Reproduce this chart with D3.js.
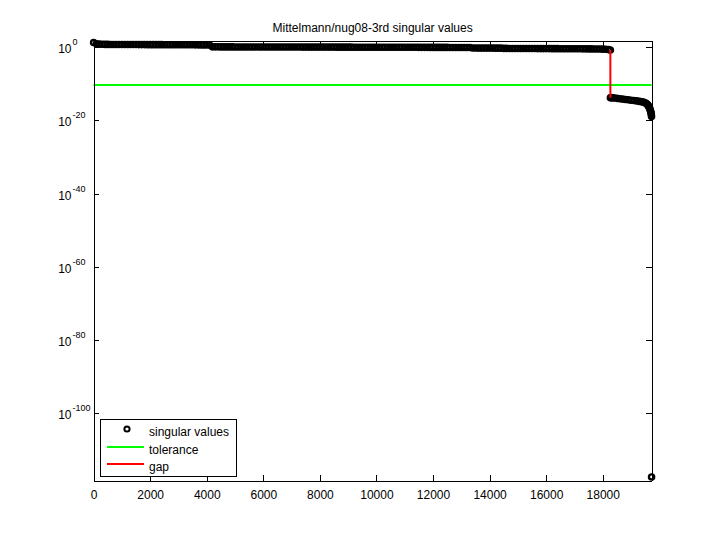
<!DOCTYPE html>
<html>
<head>
<meta charset="utf-8">
<script src="https://cdn.jsdelivr.net/npm/d3@7"></script>
<style>
  html, body { margin: 0; padding: 0; background: #fff; }
  svg { display: block; }
  text { font-family: "Liberation Sans", Arial, Helvetica, sans-serif; fill: #000; }
</style>
</head>
<body>
<svg id="chart" width="720" height="540"></svg>
<script>
// ---------------- data ----------------
const chartTitle = "Mittelmann/nug08-3rd singular values";
const nSingular = 19728;                 // number of singular values (x extent)
const yLimLog10 = [-118.4, 1.86];        // y axis limits, log10
// leading singular values, sampled every 100 indices (0, 100, 200, ...), log10
const headIndexStep = 100;
const headLog10 = [
  1.30, 0.95, 0.86, 0.82, 0.80, 0.79, 0.78, 0.78, 0.77, 0.77,
  0.76, 0.76, 0.76, 0.75, 0.75, 0.75, 0.74, 0.74, 0.74, 0.73,
  0.73, 0.73, 0.72, 0.72, 0.72, 0.71, 0.71, 0.71, 0.70, 0.70,
  0.70, 0.69, 0.69, 0.69, 0.68, 0.68, 0.67, 0.67, 0.66, 0.66,
  0.65, 0.64,
  0.12, 0.12, 0.12, 0.11, 0.11, 0.11, 0.11, 0.11, 0.10, 0.10,
  0.10, 0.10, 0.10, 0.10, 0.09, 0.09, 0.09, 0.09, 0.09, 0.09,
  0.08, 0.08, 0.08, 0.08, 0.08, 0.08, 0.07, 0.07, 0.07, 0.07,
  0.07, 0.07, 0.06, 0.06, 0.06, 0.06, 0.06, 0.06, 0.05, 0.05,
  0.05, 0.05, 0.05, 0.05, 0.04, 0.04, 0.04, 0.04, 0.04, 0.04,
  0.03, 0.03, 0.03, 0.03, 0.03, 0.03, 0.02, 0.02, 0.02, 0.02,
  0.02, 0.02, 0.01, 0.01, 0.01, 0.01, 0.01, 0.01, 0.00, 0.00,
  0.00, 0.00, 0.00, -0.01, -0.01, -0.01, -0.01, -0.02, -0.02, -0.02,
  -0.02, -0.03, -0.03, -0.03, -0.04, -0.04, -0.04, -0.05, -0.05, -0.05,
  -0.06, -0.06,
  -0.20, -0.20, -0.21, -0.21, -0.21, -0.22, -0.22, -0.22, -0.23, -0.23, -0.23,
  -0.30, -0.30, -0.31, -0.31, -0.32, -0.32, -0.32, -0.33, -0.33, -0.33,
  -0.34, -0.34, -0.35, -0.35, -0.35, -0.36, -0.36, -0.37, -0.37, -0.37,
  -0.38, -0.38, -0.39, -0.39, -0.40, -0.40, -0.41, -0.41, -0.42, -0.42,
  -0.43, -0.44, -0.45, -0.46, -0.48, -0.50, -0.55, -0.62
];
// remaining singular values, explicit indices and log10 values
const tailIndex = [18270, 18271, 18300, 18350, 18400, 18500, 18600, 18700, 18800, 18900,
  19000, 19100, 19200, 19300, 19400, 19450, 19500, 19540, 19570, 19600,
  19620, 19640, 19660, 19675, 19690, 19700, 19710, 19720, 19726, 19727];
const tailLog10 = [-0.74, -13.8, -13.75, -13.8, -13.85, -13.95, -14.05, -14.15, -14.25, -14.35,
  -14.45, -14.55, -14.65, -14.78, -14.92, -15.02, -15.15, -15.35, -15.55, -15.8,
  -16.05, -16.35, -16.7, -17.0, -17.4, -17.7, -18.0, -18.4, -18.9, -117.4];
const toleranceLog10 = -10.3;
const gapIndex = 18270;
const gapLog10 = [-0.74, -13.8];
const xTicks = [0, 2000, 4000, 6000, 8000, 10000, 12000, 14000, 16000, 18000];
const yTickExp = [0, -20, -40, -60, -80, -100];
const legendLabels = ["singular values", "tolerance", "gap"];

// ---------------- layout ----------------
const svg = d3.select("#chart");
const L = 93.6, R = 651.6, T = 40.5, B = 480.6;
const x = d3.scaleLinear().domain([0, nSingular]).range([L, R]);
const y = d3.scaleLog().domain([Math.pow(10, yLimLog10[0]), Math.pow(10, yLimLog10[1])]).range([B, T]);
const tick = 5.6;
const mR = 2.6, mW = 2.4;

svg.append("rect").attr("width", 720).attr("height", 540).attr("fill", "#fff");

const points = headLog10.map((v, i) => ({ i: i * headIndexStep, v: Math.pow(10, v) }))
  .concat(tailIndex.map((idx, k) => ({ i: idx, v: Math.pow(10, tailLog10[k]) })));

// singular values (markers)
svg.append("g").selectAll("circle").data(points).join("circle")
  .attr("cx", d => x(d.i)).attr("cy", d => y(d.v)).attr("r", mR)
  .attr("fill", "none").attr("stroke", "#000").attr("stroke-width", mW);

// tolerance
svg.append("line")
  .attr("x1", x(0)).attr("x2", x(nSingular))
  .attr("y1", y(Math.pow(10, toleranceLog10))).attr("y2", y(Math.pow(10, toleranceLog10)))
  .attr("stroke", "#00ff00").attr("stroke-width", 2);

// gap
svg.append("line")
  .attr("x1", x(gapIndex)).attr("x2", x(gapIndex))
  .attr("y1", y(Math.pow(10, gapLog10[0]))).attr("y2", y(Math.pow(10, gapLog10[1])))
  .attr("stroke", "#ff0000").attr("stroke-width", 2);

// axes
const axG = svg.append("g").attr("shape-rendering", "crispEdges");
const xb = axG.append("g").attr("transform", `translate(0,${B})`)
  .call(d3.axisBottom(x).tickValues(xTicks).tickFormat(d3.format("d")).tickSizeInner(-tick).tickSizeOuter(0).tickPadding(10));
const xt = axG.append("g").attr("transform", `translate(0,${T})`)
  .call(d3.axisTop(x).tickValues(xTicks).tickFormat("").tickSizeInner(-tick).tickSizeOuter(0));
const yTickVals = yTickExp.map(e => Math.pow(10, e));
const yl = axG.append("g").attr("transform", `translate(${L},0)`)
  .call(d3.axisLeft(y).tickValues(yTickVals).tickFormat("").tickSizeInner(-tick).tickSizeOuter(0));
const yr = axG.append("g").attr("transform", `translate(${R},0)`)
  .call(d3.axisRight(y).tickValues(yTickVals).tickFormat("").tickSizeInner(-tick).tickSizeOuter(0));
[xb, xt, yl, yr].forEach(g => {
  g.selectAll("path.domain").attr("stroke", "#000").attr("stroke-width", 1);
  g.selectAll(".tick line").attr("stroke", "#000").attr("stroke-width", 1);
});
xb.selectAll(".tick text").attr("font-size", 12).attr("fill", "#000")
  .attr("font-family", '"Liberation Sans", Arial, sans-serif');

// y tick labels as 10^exp
const ylab = svg.append("g");
yTickExp.forEach(e => {
  const yy = y(Math.pow(10, e));
  ylab.append("text").attr("x", 71.5).attr("y", yy + 6).attr("text-anchor", "end")
    .attr("font-size", 12).text("10");
  ylab.append("text").attr("x", 72.5).attr("y", yy - 2).attr("text-anchor", "start")
    .attr("font-size", 9).text(String(e));
});

// title
svg.append("text").attr("x", (L + R) / 2).attr("y", 32).attr("text-anchor", "middle")
  .attr("font-size", 12).text(chartTitle);

// legend
const lg = svg.append("g");
lg.append("rect").attr("x", 100.5).attr("y", 419.5).attr("width", 136).attr("height", 57)
  .attr("fill", "#fff").attr("stroke", "#000").attr("stroke-width", 1).attr("shape-rendering", "crispEdges");
lg.append("circle").attr("cx", 127).attr("cy", 429).attr("r", 2.6)
  .attr("fill", "none").attr("stroke", "#000").attr("stroke-width", 2);
lg.append("line").attr("x1", 107).attr("x2", 144).attr("y1", 447).attr("y2", 447)
  .attr("stroke", "#00ff00").attr("stroke-width", 2);
lg.append("line").attr("x1", 107).attr("x2", 144).attr("y1", 464).attr("y2", 464)
  .attr("stroke", "#ff0000").attr("stroke-width", 2);
const legY = [436, 454, 471];
legendLabels.forEach((t, k) => {
  lg.append("text").attr("x", 149).attr("y", legY[k]).attr("font-size", 12).text(t);
});
</script>
</body>
</html>
